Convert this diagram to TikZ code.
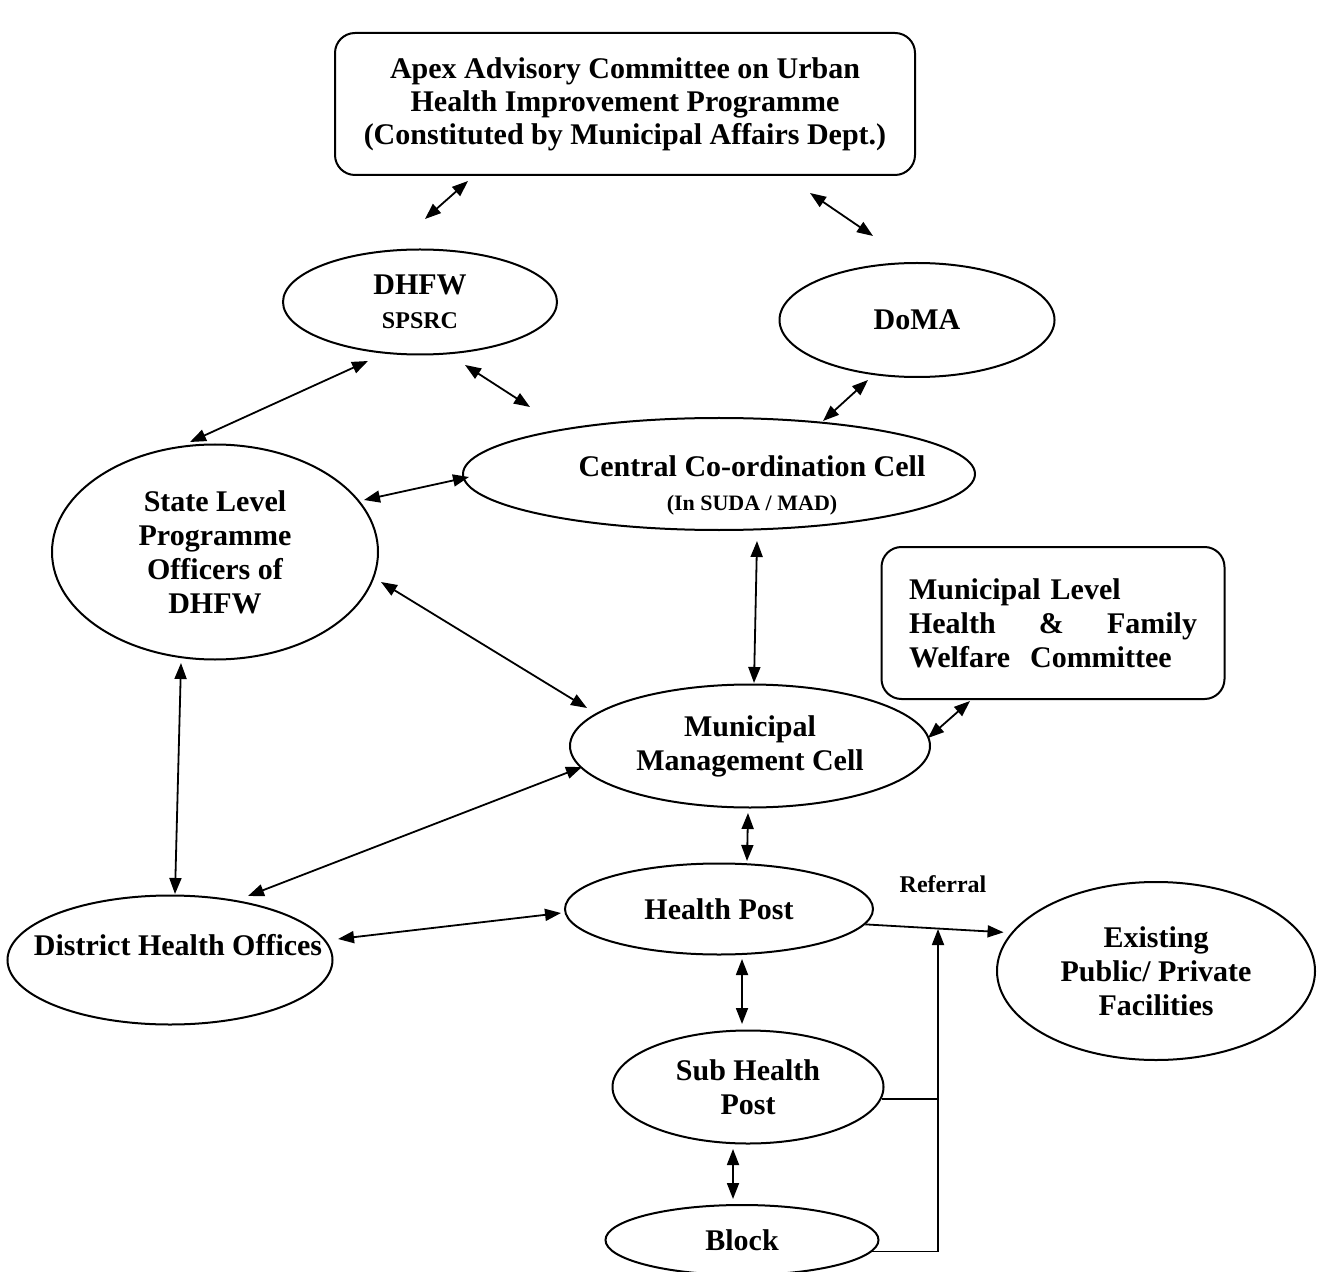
\documentclass[tikz,border=0pt]{standalone}
\usepackage{fontspec}
\setmainfont{Liberation Serif}
\usetikzlibrary{shapes.geometric,arrows.meta}

\tikzset{
	oval/.style={draw, ellipse, line width=1pt, inner sep=0pt, align=center},
	panel/.style={draw, rectangle, rounded corners=10pt, line width=1pt, inner sep=0pt},
	link/.style={>={Triangle[length=8pt,width=6pt]}, <->, line width=0.9pt},
	refer/.style={>={Triangle[length=8pt,width=6pt]}, ->, line width=0.9pt}
}

\begin{document}
\begin{tikzpicture}[x=0.5pt, y=-0.5pt, font=\bfseries\fontsize{15}{17}\selectfont]
		\useasboundingbox[fill=white] (0,0) rectangle (1321,1272);
		\node[panel, minimum width=290pt, minimum height=71pt, align=center, font=\bfseries\fontsize{15}{16.5}\selectfont] (apex) at (625,104) {Apex Advisory Committee on Urban\\Health Improvement Programme\\(Constituted by Municipal Affairs Dept.)};
		\node[oval, minimum width=137pt, minimum height=52.5pt] (dhfw) at (420,302) {DHFW\\{\fontsize{12}{14}\selectfont SPSRC}};
		\node[oval, minimum width=137.5pt, minimum height=57pt] (doma) at (917,320) {DoMA};
		\node[oval, minimum width=256pt, minimum height=56pt] (ccc) at (719,474) {};
		\node[align=center] (ccctext) at (752,485) {Central Co-ordination Cell\\{\fontsize{11}{13}\selectfont (In SUDA / MAD)}};
		\node[oval, minimum width=163pt, minimum height=107.5pt] (state) at (215,552) {State Level\\Programme\\Officers of\\DHFW};
		\node[panel, minimum width=171.5pt, minimum height=76pt, text width=144pt, align=left] (mlhfwc) at (1053,623) {Municipal Level\\Health \hfill \& \hfill Family\\Welfare\ \ Committee};
		\node[oval, minimum width=180pt, minimum height=61.5pt] (mmc) at (750,746) {Municipal\\Management Cell};
		\node[oval, minimum width=154pt, minimum height=45.5pt] (hp) at (719,909) {Health Post};
		\node[oval, minimum width=162.5pt, minimum height=64.5pt] (dho) at (170,960) {};
		\node (dhotext) at (178,945) {District Health Offices};
		\node[oval, minimum width=159pt, minimum height=89pt] (epf) at (1156,971) {Existing\\Public/ Private\\Facilities};
		\node[oval, minimum width=135.5pt, minimum height=56.5pt] (shp) at (748,1087) {Sub Health\\Post};
		\node[oval, minimum width=136.5pt, minimum height=35pt] (block) at (742,1240) {Block};
		\node[font=\bfseries\fontsize{12}{14}\selectfont] (referral) at (943,884) {Referral};

		\draw[link] ([shift={(-157,5)}]apex.south) -- ([shift={(5,-29.5)}]dhfw.north);
		\draw[link] ([shift={(185,17)}]apex.south) -- ([shift={(-44,-26)}]doma.north);
		\draw[link] ([shift={(-52,5.5)}]dhfw.south) -- ([shift={(-25,-1.5)}]state.north);
		\draw[link] ([shift={(45,9.5)}]dhfw.south) -- ([shift={(-189,-10)}]ccc.north);
		\draw[link] ([shift={(-49,2)}]doma.south) -- ([shift={(104,4)}]ccc.north);
		\draw[link] ([shift={(-15,-52)}]state.east) -- ([shift={(7,3)}]ccc.west);
		\draw[link] ([shift={(2,30)}]state.east) -- ([shift={(18,-38)}]mmc.west);
		\draw[link] ([shift={(-34,2.5)}]state.south) -- ([shift={(5,-0.5)}]dho.north);
		\draw[link] ([shift={(38,10)}]ccc.south) -- ([shift={(4,-0.5)}]mmc.north);
		\draw[link] ([shift={(-83,1)}]mlhfwc.south) -- ([shift={(-3,-8)}]mmc.east);
		\draw[link] ([shift={(13,21)}]mmc.west) -- ([shift={(78,1.5)}]dho.north);
		\draw[link] ([shift={(-2,4.5)}]mmc.south) -- ([shift={(28,-1.5)}]hp.north);
		\draw[link] ([shift={(4.5,-21)}]dho.east) -- ([shift={(-3,4)}]hp.west);
		\draw[link] ([shift={(23,3.5)}]hp.south) -- ([shift={(-6,-5.5)}]shp.north);
		\draw[link] ([shift={(-15,4.5)}]shp.south) -- ([shift={(-9,-5)}]block.north);

		\coordinate (jn) at (938,929);
		\draw[refer] (hp.-6) -- ([xshift=-4pt]epf.165);
		\draw[refer] (block.-5) -| (jn);
		\draw[line width=0.9pt] (shp.-5) -- (shp.-5 -| jn);
\end{tikzpicture}
\end{document}
